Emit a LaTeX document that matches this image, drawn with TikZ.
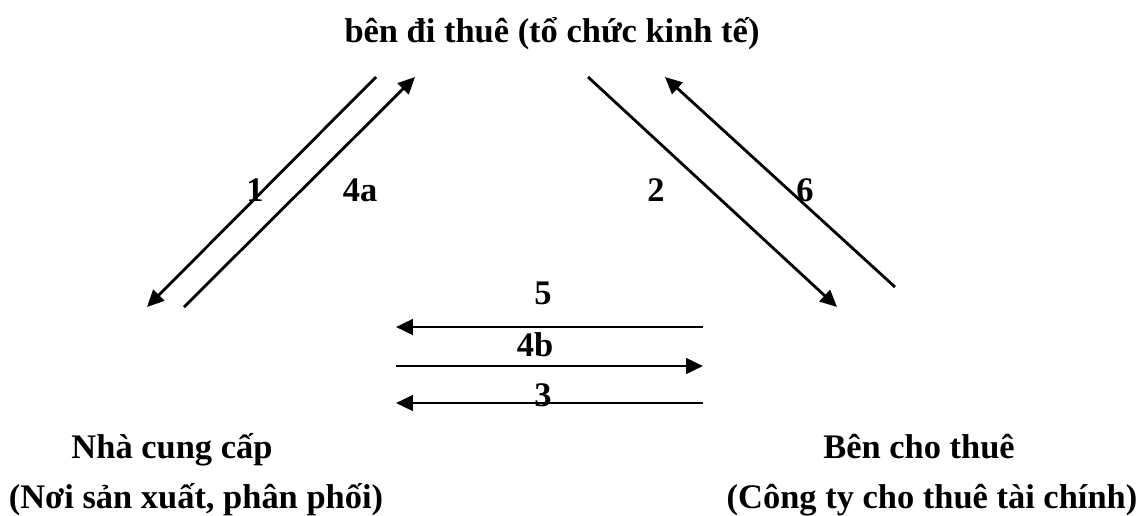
\documentclass[tikz,border=0pt]{standalone}
\usepackage{fontspec}
\setmainfont{Liberation Serif}
\usetikzlibrary{arrows.meta}
\begin{document}
\begin{tikzpicture}[x=0.025cm,y=-0.025cm,line width=2pt,
  every node/.style={font=\fontsize{24.5}{29}\selectfont\bfseries,inner sep=0pt},
  flow/.style={-{Triangle[length=12pt,width=11pt]}}]
  \useasboundingbox (0,0) rectangle (1141,515);

  % the three parties
  \node[anchor=base] (lessee) at (552,42) {bên đi thuê (tổ chức kinh tế)};
  \node[anchor=base] (supplier) at (172,458) {Nhà cung cấp};
  \node[anchor=base] (supplierb) at (196,508) {(Nơi sản xuất, phân phối)};
  \node[anchor=base] (lessor) at (919,458) {Bên cho thuê};
  \node[anchor=base] (lessorb) at (932,508) {(Công ty cho thuê tài chính)};

  % end points of the flows
  \coordinate (f1s) at (376,77);  \coordinate (f1e) at (147,307);
  \coordinate (f4as) at (184,307); \coordinate (f4ae) at (415,77);
  \coordinate (f2s) at (588,77);  \coordinate (f2e) at (837,307);
  \coordinate (f6s) at (895,287); \coordinate (f6e) at (665,77);
  \coordinate (f5s) at (703,327); \coordinate (f5e) at (396,327);
  \coordinate (f4bs) at (396,366); \coordinate (f4be) at (703,366);
  \coordinate (f3s) at (703,403); \coordinate (f3e) at (396,403);

  \draw[flow] (f1s) -- (f1e);
  \draw[flow] (f4as) -- (f4ae);
  \draw[flow] (f2s) -- (f2e);
  \draw[flow] (f6s) -- (f6e);
  \draw[flow] (f5s) -- (f5e);
  \draw[flow] (f4bs) -- (f4be);
  \draw[flow] (f3s) -- (f3e);

  % step numbers
  \node (n1) at (255,190) {1};
  \node (n4a) at (360,190) {4a};
  \node (n2) at (656,190) {2};
  \node (n6) at (805,190) {6};
  \node (n5) at (543,293) {5};
  \node (n4b) at (535,345) {4b};
  \node (n3) at (543,395) {3};
\end{tikzpicture}
\end{document}
